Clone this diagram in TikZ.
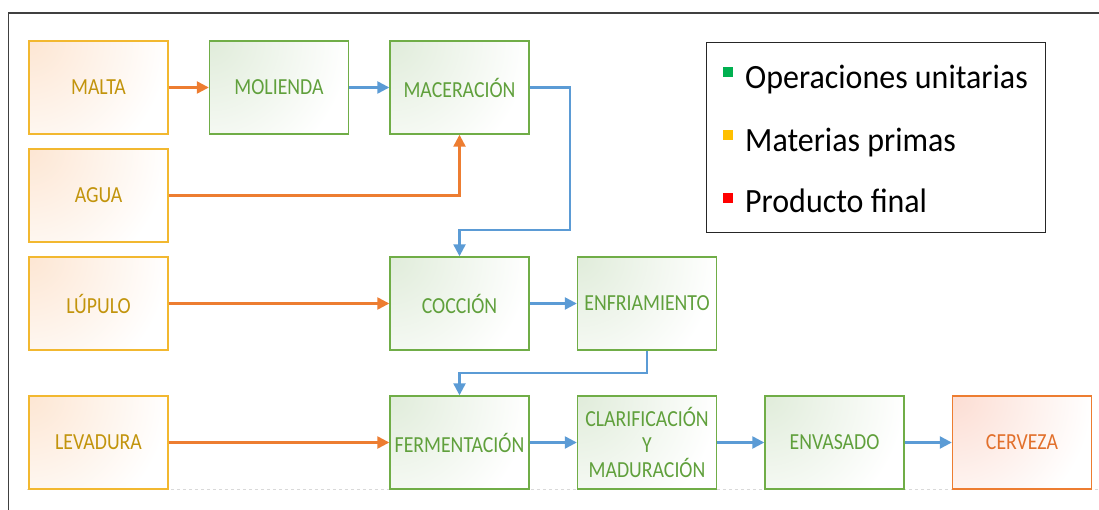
\documentclass[tikz,border=0pt]{standalone}
\usepackage{fontspec}
\setmainfont{Carlito}[FakeStretch=0.86]
\newfontfamily\keyfont{Carlito}[FakeStretch=0.94]
\usetikzlibrary{arrows.meta,calc}

\definecolor{rawline}{HTML}{F2B830}
\definecolor{rawtext}{HTML}{C2940C}
\definecolor{rawtint}{HTML}{FDE6D3}
\definecolor{opline}{HTML}{70AD47}
\definecolor{optext}{HTML}{60A03C}
\definecolor{optint}{HTML}{E0ECDA}
\definecolor{endline}{HTML}{ED7D31}
\definecolor{endtext}{HTML}{E2702C}
\definecolor{endtint}{HTML}{FCDDD3}
\definecolor{flowraw}{HTML}{ED7D31}
\definecolor{flowop}{HTML}{5B9BD5}
\definecolor{framegray}{HTML}{404040}
\definecolor{keygreen}{HTML}{00B050}
\definecolor{keyyellow}{HTML}{FFC000}
\definecolor{keyred}{HTML}{FF0000}

% soft glows spreading from a box's upper left corner
\pgfdeclareradialshading{rawglow}{\pgfpoint{0bp}{0bp}}{color(0bp)=(rawtint); color(25bp)=(white); color(50bp)=(white)}
\pgfdeclareradialshading{opglow}{\pgfpoint{0bp}{0bp}}{color(0bp)=(optint); color(25bp)=(white); color(50bp)=(white)}
\pgfdeclareradialshading{endglow}{\pgfpoint{0bp}{0bp}}{color(0bp)=(endtint); color(25bp)=(white); color(50bp)=(white)}

\begin{document}
\begin{tikzpicture}[x=1pt,y=-1pt,
  box/.style={rectangle, minimum width=139pt, minimum height=93pt,
    line width=1.4pt, inner sep=0pt, align=center, fill=white,
    font=\fontsize{23}{25.5}\selectfont},
  corner glow/.style={path picture={
    \shade[shading=#1]
      (path picture bounding box.north west) circle (140pt);}},
  rawbox/.style={box, draw=rawline, text=rawtext, corner glow=rawglow},
  opbox/.style={box, draw=opline, text=optext, corner glow=opglow},
  endbox/.style={box, draw=endline, text=endtext, corner glow=endglow},
  tip/.style={-{Triangle[length=12pt,width=12pt]}},
  rawflow/.style={tip, draw=flowraw, line width=2.4pt},
  opflow/.style={tip, draw=flowop, line width=2.4pt},
  keytext/.style={anchor=base west, inner sep=0pt,
    font=\keyfont\fontsize{34}{40}\selectfont},
  keysq/.style={rectangle, inner sep=0pt, minimum width=10pt, minimum height=10pt, anchor=north west}
]
\useasboundingbox (0,0) rectangle (1099,510);

% outer frame (top and left edges)
\draw[framegray, line width=1.5pt] (1099,13) -- (8.6,13) -- (8.6,510);
% faint base line
\draw[gray!30, dashed, line width=0.6pt] (27,489) -- (1099,489);

% raw materials
\node[rawbox] (malta)    at (98.5,87.5)  {MALTA};
\node[rawbox] (agua)     at (98.5,195.5) {AGUA};
\node[rawbox] (lupulo)   at (98.5,303.5) {LÚPULO};
\node[rawbox] (levadura) at (98.5,442.5) {LEVADURA};

% unit operations
\node[opbox] (molienda)   at (279,87.5)   {MOLIENDA};
\node[opbox] (maceracion) at (459.5,87.5) {MACERACIÓN};
\node[opbox] (coccion)    at (459.5,303.5) {COCCIÓN};
\node[opbox] (enfria)     at (647,303.5)  {ENFRIAMIENTO};
\node[opbox] (ferment)    at (459.5,442.5) {FERMENTACIÓN};
\node[opbox] (clarif)     at (647,442.5)  {CLARIFICACIÓN\\Y\\MADURACIÓN};
\node[opbox] (envasado)   at (834.5,442.5) {ENVASADO};

% final product
\node[endbox] (cerveza) at (1022,442.5) {CERVEZA};

% bends of the process line
\coordinate (macbend) at (570,230);
\coordinate (enfbend) at (647,373);

% raw material inputs
\draw[rawflow] (malta.east) -- (molienda.west);
\draw[rawflow] (agua.east) -| (maceracion.south);
\draw[rawflow] (lupulo.east) -- (coccion.west);
\draw[rawflow] (levadura.east) -- (ferment.west);

% process flow
\draw[opflow] (molienda.east) -- (maceracion.west);
\draw[opflow] (maceracion.east) -| (macbend) -| (coccion.north);
\draw[opflow] (coccion.east) -- (enfria.west);
\draw[opflow] (enfria.south) -- (enfbend) -| (ferment.north);
\draw[opflow] (ferment.east) -- (clarif.west);
\draw[opflow] (clarif.east) -- (envasado.west);
\draw[opflow] (envasado.east) -- (cerveza.west);

% key
\node[draw=black!85, line width=1pt, minimum width=339pt, minimum height=190pt,
  inner sep=0pt] (key) at (875.5,138) {};
\node[keysq, fill=keygreen]  (sq1) at (723,67)  {};
\node[keysq, fill=keyyellow] (sq2) at (723,130) {};
\node[keysq, fill=keyred]    (sq3) at (723,193) {};
\node[keytext] (k1) at (745,89)  {Operaciones unitarias};
\node[keytext] (k2) at (745,152) {Materias primas};
\node[keytext] (k3) at (745,213) {Producto final};
\end{tikzpicture}
\end{document}
